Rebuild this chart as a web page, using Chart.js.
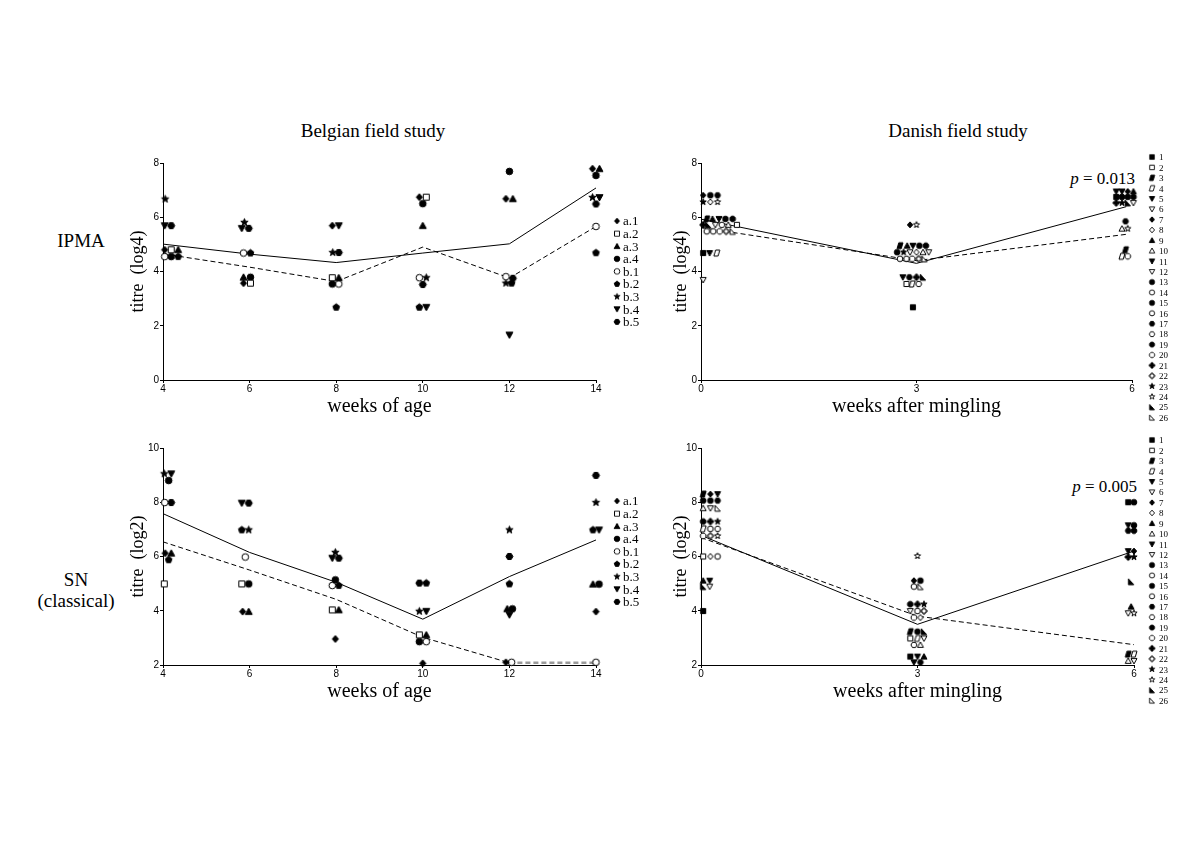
<!DOCTYPE html>
<html>
<head>
<meta charset="utf-8">
<title>Belgian and Danish field study titres</title>
<script src="https://cdn.jsdelivr.net/npm/chart.js@4.4.1/dist/chart.umd.min.js"></script>
<style>
  html, body { margin: 0; padding: 0; background: #fff; }
  #page { position: relative; width: 1200px; height: 847px; overflow: hidden; font-family: 'Liberation Serif', 'Times New Roman', serif; color: #000; }
  #page canvas { position: absolute; }
  .lbl { position: absolute; white-space: nowrap; transform: translate(-50%, -50%); font-size: 19px; }
  .pval { position: absolute; white-space: nowrap; transform: translate(-100%, -50%); font-size: 17px; }
</style>
</head>
<body>
<div id="page">
  <div class="lbl" style="left:373px; top:131px">Belgian field study</div>
  <div class="lbl" style="left:958px; top:131px">Danish field study</div>
  <div class="lbl" style="left:81px; top:241px">IPMA</div>
  <div class="lbl" style="left:76px; top:590px; text-align:center; line-height:21px">SN<br>(classical)</div>
  <div class="pval" style="left:1135px; top:179px"><i>p</i> = 0.013</div>
  <div class="pval" style="left:1137px; top:487px"><i>p</i> = 0.005</div>

  <canvas id="belIpmaChart" width="552" height="275" style="left:118px; top:150px"></canvas>
  <canvas id="belSnChart" width="552" height="275" style="left:118px; top:435px"></canvas>
  <canvas id="danIpmaChart" width="540" height="275" style="left:660px; top:150px"></canvas>
  <canvas id="danSnChart" width="540" height="275" style="left:660px; top:435px"></canvas>
</div>

<script>
// ---- Belgian field study: 9 pigs sampled every 2 weeks ----
const belWeeks = [4, 6, 8, 10, 12, 14];
const belPigs = ['a.1', 'a.2', 'a.3', 'a.4', 'b.1', 'b.2', 'b.3', 'b.4', 'b.5'];

// IPMA titre (log4), one row per pig, one column per week (null = no sample)
const belIpma = [
    [4.8, 3.57, 5.69, 6.74, 6.68, 7.79],
    [4.8, 3.57, 3.77, 6.74, null, null],
    [4.8, 3.79, 3.77, 5.69, 6.68, 7.79],
    [4.55, 3.79, 3.54, 6.5, 7.69, 7.54],
    [4.55, 4.68, 3.54, 3.77, 3.81, 5.66],
    [4.55, 4.68, 2.68, 2.68, 3.57, 4.69],
    [6.67, 5.81, 4.7, 3.77, 3.57, 6.73],
    [5.69, 5.59, 5.69, 2.68, 1.66, 6.73],
    [5.69, 5.59, 4.7, 3.52, 3.75, 6.49]
];
// where each symbol sits on the week axis (symbols are spread around each week)
const belIpmaAt = [
    [4.04, 5.86, 7.91, 9.92, 11.92, 13.92],
    [4.19, 6.02, 7.91, 10.08, null, null],
    [4.35, 5.86, 8.06, 10.0, 12.08, 14.08],
    [4.19, 6.02, 7.91, 10.0, 12.0, 14.0],
    [4.04, 5.86, 8.06, 9.92, 11.92, 14.0],
    [4.35, 6.02, 8.0, 9.92, 12.05, 14.0],
    [4.05, 5.88, 7.92, 10.08, 11.92, 13.92],
    [4.04, 5.82, 8.06, 10.08, 12.0, 14.08],
    [4.19, 5.98, 8.06, 10.0, 12.08, 14.0]
];
const belIpmaSolid = [5.01, 4.64, 4.33, 4.68, 5.02, 7.08];
const belIpmaDashed = [4.65, 4.16, 3.63, 4.9, 3.76, 5.66];

// SN titre (log2)
const belSn = [
    [6.12, 3.97, 2.96, 2.06, 2.1, 3.97],
    [4.99, 4.99, 4.03, 3.11, null, null],
    [6.12, 3.97, 4.03, 3.11, 4.07, 4.98],
    [8.8, 4.99, 5.14, 2.86, 4.07, 4.98],
    [7.99, 5.98, 4.93, 2.86, 2.1, 2.1],
    [5.88, 6.98, 4.93, 5.02, 4.99, 6.98],
    [9.05, 6.98, 6.15, 3.98, 6.98, 7.99],
    [9.05, 7.97, 5.94, 3.98, 3.85, 6.98],
    [7.99, 7.97, 5.94, 5.02, 6.0, 8.99]
];
const belSnAt = [
    [4.05, 5.84, 7.98, 10.0, 11.92, 14.0],
    [4.03, 5.82, 7.91, 9.92, null, null],
    [4.19, 5.98, 8.06, 10.08, 11.95, 13.93],
    [4.13, 5.98, 7.98, 9.92, 12.07, 14.07],
    [4.04, 5.9, 7.91, 10.08, 12.05, 14.0],
    [4.13, 5.82, 8.06, 10.08, 12.0, 13.93],
    [4.03, 5.98, 7.98, 9.92, 12.0, 14.0],
    [4.19, 5.82, 7.91, 10.08, 12.0, 14.07],
    [4.19, 5.98, 8.06, 9.92, 12.0, 14.0]
];
const belSnSolid = [7.58, 6.15, 5.05, 3.69, 5.26, 6.61];
const belSnDashed = [6.54, 5.5, 4.42, 3.02, 2.08, 2.08];

// ---- Danish field study: 26 pigs, weeks after mingling ----
const danWeeks = [0, 3, 6];
const danPigs = ['1', '2', '3', '4', '5', '6', '7', '8', '9', '10', '11', '12', '13',
    '14', '15', '16', '17', '18', '19', '20', '21', '22', '23', '24', '25', '26'];

// IPMA titre (log4)
const danIpma = [
    [4.68, 2.68, 6.75], [5.72, 3.54, null], [5.94, 4.95, 4.8], [4.68, 3.54, 4.56],
    [5.94, 4.95, 6.95], [5.72, 4.71, 6.53], [6.81, 5.72, 6.95], [6.56, 4.71, null],
    [5.94, 4.95, 6.95], [5.72, 4.71, 5.58], [4.68, 3.79, 6.95], [3.69, 4.71, null],
    [6.81, 4.71, 6.75], [5.48, 4.47, null], [5.94, 4.95, 6.75], [5.48, 4.47, null],
    [6.81, 3.79, 5.85], [5.72, 3.54, null], [5.94, 4.95, 6.75], [5.48, 4.47, 4.56],
    [5.72, 3.79, 6.53], [5.48, 4.47, null], [6.56, 4.71, 6.53], [6.56, 5.72, 5.58],
    [5.72, 3.79, 6.53], [5.48, 4.47, null]
];
const danIpmaAt = [
    [0.03, 2.95, 5.78], [0.5, 2.86, null], [0.08, 2.77, 5.91], [0.22, 2.94, 5.86],
    [0.25, 2.95, 5.78], [0.2, 2.91, 6.02], [0.03, 2.91, 5.94], [0.13, 3.0, null],
    [0.16, 2.87, 6.02], [0.38, 3.09, 5.86], [0.12, 2.81, 5.86], [0.03, 3.17, null],
    [0.13, 2.73, 5.86], [0.08, 2.77, null], [0.34, 3.04, 5.94], [0.17, 2.86, null],
    [0.23, 2.9, 5.91], [0.29, 3.03, null], [0.44, 3.13, 6.02], [0.26, 2.94, 5.94],
    [0.03, 3.0, 5.78], [0.35, 3.03, null], [0.03, 2.82, 5.86], [0.23, 3.0, 5.94],
    [0.1, 3.09, 5.94], [0.44, 3.11, null]
];
const danIpmaSolidAt = [0, 3, 5.92];
const danIpmaSolid = [5.93, 4.3, 6.39];
const danIpmaDashedAt = [0, 3, 5.95];
const danIpmaDashed = [5.62, 4.4, 5.38];

// SN titre (log2)
const danSn = [
    [3.99, 2.31, 8.0], [6.0, 2.98, null], [8.3, 3.23, 2.4], [7.02, 2.98, 2.4],
    [8.3, 2.31, 7.15], [4.89, 2.98, 3.91], [8.3, 5.11, 6.2], [6.0, 3.75, null],
    [5.11, 2.31, 4.15], [7.78, 2.74, 2.15], [5.11, 2.1, 6.2], [7.78, 3.99, 2.15],
    [8.06, 5.11, 8.0], [6.0, 4.89, null], [8.06, 3.23, 7.15], [7.02, 3.99, null],
    [8.06, 2.1, 6.95], [7.02, 2.74, null], [7.29, 4.24, 6.95], [6.76, 3.75, null],
    [7.29, 4.24, 5.98], [6.76, 3.99, null], [7.29, 4.24, 5.98], [6.76, 6.02, 3.91],
    [4.89, 3.23, 5.07], [7.78, 4.89, null]
];
const danSnAt = [
    [0.03, 2.9, 5.92], [0.03, 2.9, null], [0.03, 2.9, 5.92], [0.03, 3.0, 6.0],
    [0.23, 3.0, 5.92], [0.12, 3.09, 5.92], [0.13, 2.95, 6.0], [0.13, 3.04, null],
    [0.03, 3.09, 5.96], [0.03, 3.04, 5.92], [0.12, 2.95, 5.92], [0.13, 2.9, 6.0],
    [0.03, 3.04, 6.0], [0.23, 2.95, null], [0.13, 3.0, 6.0], [0.13, 3.0, null],
    [0.23, 3.04, 5.92], [0.23, 2.95, null], [0.03, 2.9, 6.0], [0.03, 2.95, null],
    [0.13, 3.0, 5.92], [0.13, 3.09, null], [0.23, 3.09, 6.0], [0.23, 3.0, 6.0],
    [0.03, 3.09, 5.96], [0.23, 3.04, null]
];
const danSnSolid = [6.78, 3.5, 6.2];
const danSnDashed = [6.7, 3.8, 2.75];

// marker shapes [shape, filled]
const belSymbols = [['diamond', 1], ['square', 0], ['triangle', 1], ['circle', 1], ['circle', 0],
    ['pentagon', 1], ['star', 1], ['triDown', 1], ['hexagon', 1]];
const danSymbols = [
    ['square', 1], ['square', 0], ['para', 1], ['para', 0], ['triDown', 1], ['triDown', 0],
    ['diamond', 1], ['diamond', 0], ['triangle', 1], ['triangle', 0], ['triDown', 1], ['triDown', 0],
    ['circle', 1], ['circle', 0], ['circle', 1], ['circle', 0], ['hexagon', 1], ['hexagon', 0],
    ['octagon', 1], ['octagon', 0], ['cross', 1], ['cross', 0], ['star', 1], ['star', 0],
    ['rtri', 1], ['rtri', 0]
];

const SERIF = "'Liberation Serif', 'Times New Roman', serif";
const SANS = "'Liberation Sans', Arial, sans-serif";

// Draw one marker glyph into a small canvas, used as a Chart.js pointStyle
function makeSymbol(shape, filled, size) {
    const pad = 2;
    const c = document.createElement('canvas');
    c.width = c.height = size + pad * 2;
    const g = c.getContext('2d');
    const m = c.width / 2;
    const r = size / 2;
    const poly = pts => {
        g.beginPath();
        pts.forEach(([px, py], i) => {
            if (i) g.lineTo(m + px * r, m + py * r);
            else g.moveTo(m + px * r, m + py * r);
        });
        g.closePath();
    };
    const regular = (n, rot) => {
        const pts = [];
        for (let k = 0; k < n; k++) {
            const a = rot + k * 2 * Math.PI / n;
            pts.push([Math.cos(a), Math.sin(a)]);
        }
        return pts;
    };
    switch (shape) {
        case 'square': poly([[-0.85, -0.85], [0.85, -0.85], [0.85, 0.85], [-0.85, 0.85]]); break;
        case 'diamond': poly([[0, -1], [0.9, 0], [0, 1], [-0.9, 0]]); break;
        case 'triangle': poly([[0, -1], [1, 0.8], [-1, 0.8]]); break;
        case 'triDown': poly([[-1, -0.8], [1, -0.8], [0, 1]]); break;
        case 'circle': g.beginPath(); g.arc(m, m, r * 0.95, 0, Math.PI * 2); break;
        case 'pentagon': poly(regular(5, -Math.PI / 2)); break;
        case 'hexagon': poly(regular(6, 0)); break;
        case 'octagon': poly(regular(8, Math.PI / 8)); break;
        case 'star': {
            const pts = [];
            for (let k = 0; k < 10; k++) {
                const a = -Math.PI / 2 + k * Math.PI / 5;
                const rr = k % 2 ? 0.45 : 1.1;
                pts.push([rr * Math.cos(a), rr * Math.sin(a)]);
            }
            poly(pts);
            break;
        }
        case 'cross': {
            const t = 0.35;
            poly([[-t, -1], [t, -1], [t, -t], [1, -t], [1, t], [t, t], [t, 1], [-t, 1],
                [-t, t], [-1, t], [-1, -t], [-t, -t]]);
            break;
        }
        case 'para': poly([[-0.4, -1], [1, -1], [0.4, 1], [-1, 1]]); break;
        case 'rtri': poly([[-0.9, -1], [0.9, 1], [-0.9, 1]]); break;
    }
    g.fillStyle = filled ? '#000' : '#fff';
    g.fill();
    g.lineWidth = 1;
    g.strokeStyle = '#000';
    g.stroke();
    return c;
}

function pigDatasets(names, values, positions, symbols, size) {
    return names.map((name, i) => ({
        label: name,
        data: values[i]
            .map((v, j) => (v == null ? null : { x: positions[i][j], y: v }))
            .filter(Boolean),
        pointStyle: makeSymbol(symbols[i][0], symbols[i][1], size),
        pointRadius: 5,
        pointHoverRadius: 5,
        borderColor: '#000',
        backgroundColor: '#000',
        clip: false,
        order: 1
    }));
}

function meanDataset(xs, ys, dashed, yFloor) {
    return {
        label: dashed ? 'mean (dashed)' : 'mean (solid)',
        data: xs.map((x, i) => ({ x: x, y: ys[i] })),
        showLine: true,
        pointRadius: 0,
        borderColor: '#000',
        borderWidth: 1,
        borderDash: dashed ? [5, 3] : [],
        // the stretch that lies on the detection floor is printed grey
        segment: {
            borderColor: c => (yFloor != null && c.p0.parsed.y <= yFloor && c.p1.parsed.y <= yFloor ? '#9a9a9a' : undefined),
            borderWidth: c => (yFloor != null && c.p0.parsed.y <= yFloor && c.p1.parsed.y <= yFloor ? 2.5 : undefined)
        },
        clip: false,
        order: 2
    };
}

// Legend column beside each panel, drawn with the datasets' own point styles
const sideLegend = {
    id: 'sideLegend',
    afterDraw(chart, args, opts) {
        const ctx = chart.ctx;
        ctx.save();
        ctx.font = opts.font;
        ctx.fillStyle = '#000';
        ctx.textBaseline = 'middle';
        ctx.textAlign = 'left';
        chart.data.datasets.slice(0, opts.count).forEach((ds, i) => {
            const y = opts.y + i * opts.step;
            const img = ds.pointStyle;
            const w = img.width * opts.scale, h = img.height * opts.scale;
            ctx.drawImage(img, opts.x - w / 2, y - h / 2, w, h);
            ctx.fillText(ds.label, opts.x + opts.gap, y + 1);
        });
        ctx.restore();
    }
};

function makePanel(canvasId, datasets, o) {
    const tickFont = { family: SANS, size: 10 };
    const axisGrid = { drawOnChartArea: false, tickLength: 3, color: '#000', lineWidth: 1 };
    new Chart(document.getElementById(canvasId), {
        type: 'scatter',
        data: { datasets: datasets },
        options: {
            responsive: false,
            animation: false,
            events: [],
            layout: { padding: { top: 13, right: o.padRight, left: 0, bottom: 0 } },
            plugins: {
                legend: { display: false },
                tooltip: { enabled: false },
                sideLegend: o.legend
            },
            scales: {
                x: {
                    type: 'linear',
                    min: o.xMin,
                    max: o.xMax,
                    ticks: { stepSize: o.xStep, padding: 0, font: tickFont, color: '#000', maxRotation: 0 },
                    grid: axisGrid,
                    border: { color: '#000', width: 1 },
                    title: {
                        display: true, text: o.xTitle, color: '#000',
                        font: { family: SERIF, size: 20 },
                        padding: { top: 0, bottom: 6 }
                    },
                    afterFit: s => { s.height = 45; }
                },
                y: {
                    type: 'linear',
                    min: o.yMin,
                    max: o.yMax,
                    ticks: { stepSize: 2, padding: 1, font: tickFont, color: '#000' },
                    grid: axisGrid,
                    border: { color: '#000', width: 1 },
                    title: {
                        display: true, text: o.yTitle, color: '#000',
                        font: { family: SERIF, size: 18 },
                        padding: { top: o.yTitlePad, bottom: 0 }
                    },
                    afterFit: s => { s.width = o.yWidth; }
                }
            }
        },
        plugins: [sideLegend]
    });
}

const belLegend = { x: 499, y: 71, step: 12.6, gap: 6, scale: 0.85, count: belPigs.length, font: '13px ' + SERIF };
const danLegend = { x: 492, y: 7, step: 10.42, gap: 7, scale: 0.9, count: danPigs.length, font: '9px ' + SERIF };

makePanel('belIpmaChart', [
    ...pigDatasets(belPigs, belIpma, belIpmaAt, belSymbols, 7),
    meanDataset(belWeeks, belIpmaSolid, false),
    meanDataset(belWeeks, belIpmaDashed, true)
], {
    xMin: 4, xMax: 14, xStep: 2, yMin: 0, yMax: 8, padRight: 74, yWidth: 45, yTitlePad: 9,
    xTitle: 'weeks of age', yTitle: 'titre  (log4)',
    legend: belLegend
});

makePanel('belSnChart', [
    ...pigDatasets(belPigs, belSn, belSnAt, belSymbols, 7),
    meanDataset(belWeeks, belSnSolid, false),
    meanDataset(belWeeks, belSnDashed, true, 2.1)
], {
    xMin: 4, xMax: 14, xStep: 2, yMin: 2, yMax: 10, padRight: 74, yWidth: 45, yTitlePad: 9,
    xTitle: 'weeks of age', yTitle: 'titre  (log2)',
    legend: Object.assign({}, belLegend, { y: 66 })
});

makePanel('danIpmaChart', [
    ...pigDatasets(danPigs, danIpma, danIpmaAt, danSymbols, 6),
    meanDataset(danIpmaSolidAt, danIpmaSolid, false),
    meanDataset(danIpmaDashedAt, danIpmaDashed, true)
], {
    xMin: 0, xMax: 6, xStep: 3, yMin: 0, yMax: 8, padRight: 68, yWidth: 41, yTitlePad: 10,
    xTitle: 'weeks after mingling', yTitle: 'titre  (log4)',
    legend: danLegend
});

makePanel('danSnChart', [
    ...pigDatasets(danPigs, danSn, danSnAt, danSymbols, 6),
    meanDataset(danWeeks, danSnSolid, false),
    meanDataset(danWeeks, danSnDashed, true)
], {
    xMin: 0, xMax: 6, xStep: 3, yMin: 2, yMax: 10, padRight: 66, yWidth: 41, yTitlePad: 10,
    xTitle: 'weeks after mingling', yTitle: 'titre  (log2)',
    legend: Object.assign({}, danLegend, { y: 5 })
});
</script>
</body>
</html>
